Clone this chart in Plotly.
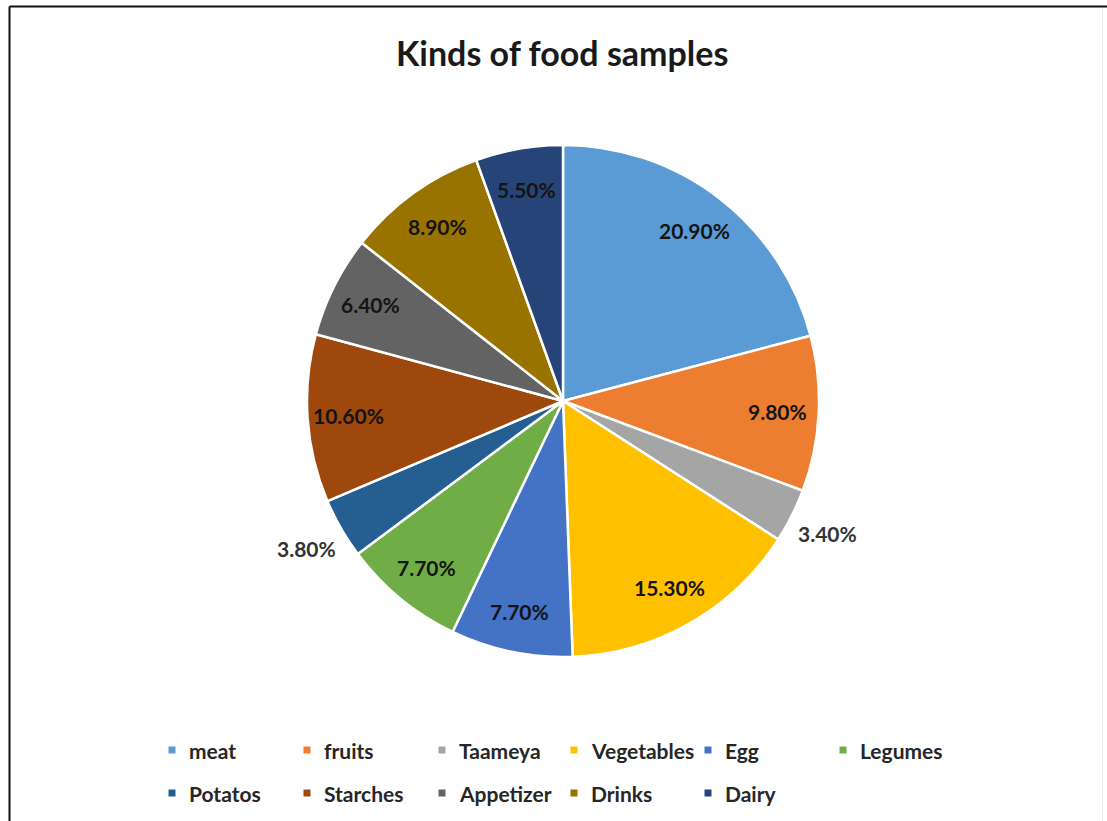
import math
import plotly.graph_objects as go

# Food sample categories and their share of all samples (%)
categories = ["meat", "fruits", "Taameya", "Vegetables", "Egg", "Legumes",
              "Potatos", "Starches", "Appetizer", "Drinks", "Dairy"]
shares = [20.9, 9.8, 3.4, 15.3, 7.7, 7.7, 3.8, 10.6, 6.4, 8.9, 5.5]
colors = ["#5B9BD5", "#ED7D31", "#A5A5A5", "#FFC000", "#4472C4", "#70AD47",
          "#255E91", "#9E480E", "#636363", "#997300", "#264478"]
# slices too thin for an inside label get theirs outside the rim
outside_labels = ["Taameya", "Potatos"]

W, H = 1107, 821
CX, CY, R = 563, 401, 256          # pie centre and radius in pixels
FONT = "Lato, 'Open Sans', sans-serif"

fig = go.Figure(go.Pie(
    labels=categories,
    values=shares,
    sort=False,
    direction="clockwise",
    rotation=0,
    marker=dict(colors=colors, line=dict(color="white", width=2.5)),
    textinfo="none",
    hoverinfo="label+percent",
    domain=dict(x=[(CX - R) / W, (CX + R) / W],
                y=[(H - CY - R) / H, (H - CY + R) / H]),
    showlegend=False,
))

def px(x, y):
    return x / W, 1 - y / H

annotations = []

# Percentage labels placed along each slice's bisector
total = sum(shares)
cum = 0.0
for name, v in zip(categories, shares):
    mid = (cum + v / 2) / total * 2 * math.pi
    cum += v
    outside = name in outside_labels
    f = 1.155 if outside else 0.84
    lx = CX + f * R * math.sin(mid)
    ly = CY - f * R * math.cos(mid)
    ax, ay = px(lx, ly)
    annotations.append(dict(
        x=ax, y=ay, xref="paper", yref="paper", showarrow=False,
        text=f"{v:.2f}%", xanchor="center", yanchor="middle",
        font=dict(family=FONT, size=21, color="#333333" if outside else "#141414",
                  weight="bold"),
    ))

# Title
tx, ty = px(562, 52)
annotations.append(dict(
    x=tx, y=ty, xref="paper", yref="paper", showarrow=False,
    text="Kinds of food samples", xanchor="center", yanchor="middle",
    font=dict(family=FONT, size=34, color="#1a1a1a", weight="bold"),
))

# Legend: two rows on a fixed column grid
col_x = [187, 322, 457, 589, 723, 858]
row_y = [750, 793]
shapes = []
for i, (name, c) in enumerate(zip(categories, colors)):
    col, row = i % 6, i // 6
    x_text, y_mid = col_x[col], row_y[row]
    mx = x_text - 15
    shapes.append(dict(
        type="rect", xref="paper", yref="paper",
        x0=(mx - 3.5) / W, x1=(mx + 3.5) / W,
        y0=1 - (y_mid + 3.5) / H, y1=1 - (y_mid - 3.5) / H,
        fillcolor=c, line=dict(width=0),
    ))
    lx, ly = px(x_text, y_mid)
    annotations.append(dict(
        x=lx, y=ly, xref="paper", yref="paper", showarrow=False,
        text=name, xanchor="left", yanchor="middle",
        font=dict(family=FONT, size=21, color="#262626", weight="bold"),
    ))

# Chart frame
shapes += [
    dict(type="line", xref="paper", yref="paper",
         x0=9.5 / W, x1=1, y0=1 - 6.5 / H, y1=1 - 6.5 / H,
         line=dict(color="#111111", width=2)),
    dict(type="line", xref="paper", yref="paper",
         x0=9.5 / W, x1=9.5 / W, y0=0, y1=1 - 6.5 / H,
         line=dict(color="#111111", width=2)),
    dict(type="line", xref="paper", yref="paper",
         x0=1102.5 / W, x1=1102.5 / W, y0=0, y1=1 - 8 / H,
         line=dict(color="#ececec", width=1)),
]

fig.update_layout(
    width=W, height=H,
    margin=dict(l=0, r=0, t=0, b=0),
    paper_bgcolor="white",
    plot_bgcolor="white",
    annotations=annotations,
    shapes=shapes,
)

fig.write_html("out.html")
